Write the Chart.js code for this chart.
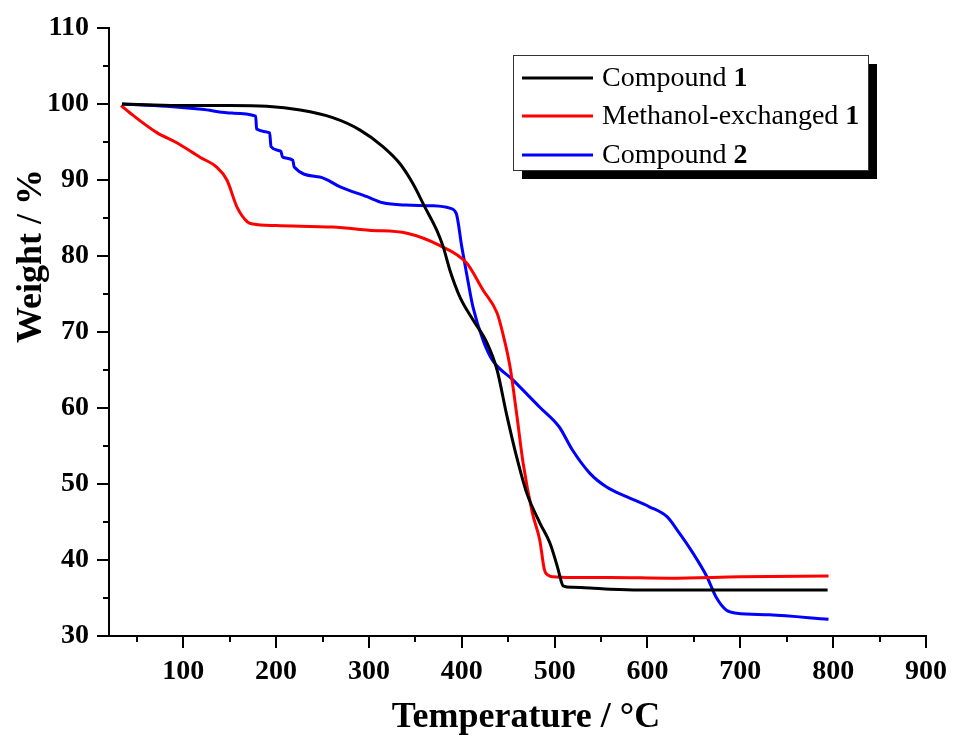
<!DOCTYPE html>
<html>
<head>
<meta charset="utf-8">
<script src="https://cdn.jsdelivr.net/npm/chart.js@4"></script>
<style>
    html, body { margin: 0; padding: 0; background: #ffffff; }
    #wrap { width: 954px; height: 736px; }
</style>
</head>
<body>
<div id="wrap"><canvas id="tgaChart" width="954" height="736"></canvas></div>
<script>
// TGA curves (temperature in °C, weight in %)
const tempCompound1 = [34, 60, 100, 150, 190, 226, 261, 290, 315, 333, 347, 360, 373, 380, 387, 398, 412, 427, 438, 448, 459, 470, 484, 495, 503, 507.6, 509, 520, 538, 560, 591, 650, 700, 750, 794];
const weightCompound1 = [100, 99.9, 99.8, 99.8, 99.7, 99.2, 98.2, 96.6, 94.4, 92.2, 89.6, 86.5, 83.4, 81.2, 78.2, 74.6, 71.6, 68.6, 65, 59.3, 53.6, 48.8, 44.9, 42.2, 39.1, 37.0, 36.6, 36.4, 36.3, 36.15, 36.05, 36.05, 36.05, 36.05, 36.05];

const tempMethanol1 = [33, 46, 72, 93, 118, 136, 147, 158, 169, 175, 200, 261, 300, 341, 376, 405, 423, 438, 444, 452, 459, 466, 476, 484, 489, 493, 498, 520, 560, 624, 700, 795];
const weightMethanol1 = [99.8, 98.5, 96.2, 94.9, 93, 91.7, 90, 86.4, 84.5, 84.2, 84.0, 83.8, 83.4, 83.0, 81.4, 79.1, 75.5, 72.5, 69.9, 65.4, 59.3, 52.8, 46.2, 42.6, 38.7, 38.0, 37.8, 37.7, 37.7, 37.6, 37.8, 37.9];

const tempCompound2 = [34, 82, 120, 153, 178, 179, 193, 194.5, 205, 207, 218, 219.5, 247, 269, 298, 315, 340, 370, 387, 394, 400, 405, 412, 423, 433, 455, 484, 505, 519, 538, 556, 578, 602, 621, 634, 649, 664, 674, 685, 696, 731, 795];
const weightCompound2 = [100, 99.7, 99.3, 98.8, 98.4, 96.7, 96.2, 94.4, 93.8, 93.0, 92.6, 91.7, 90.4, 89.1, 87.8, 87.0, 86.7, 86.6, 86.3, 85.6, 81.2, 77.8, 73.3, 68.9, 66.3, 63.7, 60.1, 57.5, 54.5, 51.4, 49.6, 48.3, 47.0, 45.7, 43.6, 40.9, 37.8, 35.1, 33.4, 33.0, 32.8, 32.2];

const xMajorTicks = [100, 200, 300, 400, 500, 600, 700, 800, 900];
const xMinorTicks = [50, 150, 250, 350, 450, 550, 650, 750, 850];
const yMinorTicks = [35, 45, 55, 65, 75, 85, 95, 105];

const seriesNames = ["Compound ", "Methanol-exchanged ", "Compound "];
const seriesNumbers = ["1", "1", "2"];
const seriesColors = ["#000000", "#ff0000", "#0000ff"];

const serifFont = "'Liberation Serif', 'Times New Roman', serif";

function toPoints(xs, ys) {
    return xs.map(function (x, i) {
        return { x: x, y: ys[i] };
    });
}

const minorTicksPlugin = {
    id: "minorTicks",
    afterDatasetsDraw: function (chart) {
        const ctx = chart.ctx;
        const xScale = chart.scales.x;
        const yScale = chart.scales.y;

        ctx.save();
        ctx.strokeStyle = "#000000";
        ctx.lineWidth = 2;
        xMinorTicks.forEach(function (v) {
            const px = Math.round(xScale.getPixelForValue(v));
            ctx.beginPath();
            ctx.moveTo(px, yScale.bottom);
            ctx.lineTo(px, yScale.bottom + 6);
            ctx.stroke();
        });
        yMinorTicks.forEach(function (v) {
            const py = Math.round(yScale.getPixelForValue(v));
            ctx.beginPath();
            ctx.moveTo(xScale.left, py);
            ctx.lineTo(xScale.left - 6, py);
            ctx.stroke();
        });
        ctx.restore();
    }
};

const axisTitlesPlugin = {
    id: "axisTitles",
    afterDraw: function (chart) {
        const ctx = chart.ctx;

        ctx.save();
        ctx.fillStyle = "#000000";
        ctx.font = "bold 36px " + serifFont;
        ctx.textAlign = "center";
        ctx.textBaseline = "alphabetic";
        ctx.fillText("Temperature / \u00B0C", 526, 727);

        ctx.translate(41, 256);
        ctx.rotate(-Math.PI / 2);
        ctx.fillText("Weight / %", 0, 0);
        ctx.restore();
    }
};

const boxLegendPlugin = {
    id: "boxLegend",
    afterDraw: function (chart) {
        const ctx = chart.ctx;
        const left = 513;
        const top = 55;
        const width = 355;
        const height = 115;

        ctx.save();
        // drop shadow
        ctx.fillStyle = "#000000";
        ctx.fillRect(left + 9, top + 9, width, height);
        ctx.fillStyle = "#ffffff";
        ctx.fillRect(left, top, width, height);
        ctx.strokeStyle = "#333333";
        ctx.lineWidth = 1;
        ctx.strokeRect(left + 0.5, top + 0.5, width, height);

        const rowY = [78, 116, 155];
        ctx.textBaseline = "middle";
        ctx.textAlign = "left";
        rowY.forEach(function (y, i) {
            ctx.strokeStyle = seriesColors[i];
            ctx.lineWidth = 3;
            ctx.beginPath();
            ctx.moveTo(522, y);
            ctx.lineTo(593, y);
            ctx.stroke();

            ctx.fillStyle = "#000000";
            ctx.font = "28px " + serifFont;
            ctx.fillText(seriesNames[i], 602, y + 1);
            const w = ctx.measureText(seriesNames[i]).width;
            ctx.font = "bold 28px " + serifFont;
            ctx.fillText(seriesNumbers[i], 602 + w, y + 1);
        });
        ctx.restore();
    }
};

new Chart(document.getElementById("tgaChart"), {
    type: "line",
    plugins: [minorTicksPlugin, axisTitlesPlugin, boxLegendPlugin],
    data: {
        datasets: [
            {
                label: "Compound 1",
                data: toPoints(tempCompound1, weightCompound1),
                borderColor: seriesColors[0],
                borderWidth: 3,
                pointRadius: 0,
                cubicInterpolationMode: "monotone"
            },
            {
                label: "Methanol-exchanged 1",
                data: toPoints(tempMethanol1, weightMethanol1),
                borderColor: seriesColors[1],
                borderWidth: 3,
                pointRadius: 0,
                cubicInterpolationMode: "monotone"
            },
            {
                label: "Compound 2",
                data: toPoints(tempCompound2, weightCompound2),
                borderColor: seriesColors[2],
                borderWidth: 3,
                pointRadius: 0,
                cubicInterpolationMode: "monotone"
            }
        ]
    },
    options: {
        responsive: false,
        animation: false,
        events: [],
        layout: {
            padding: { top: 28, right: 26, bottom: 0, left: 0 }
        },
        plugins: {
            legend: { display: false },
            tooltip: { enabled: false }
        },
        scales: {
            x: {
                type: "linear",
                min: 20,
                max: 900,
                afterBuildTicks: function (scale) {
                    scale.ticks = xMajorTicks.map(function (v) { return { value: v }; });
                },
                afterFit: function (scale) {
                    scale.height = 100;
                },
                ticks: {
                    color: "#000000",
                    padding: 7,
                    maxRotation: 0,
                    font: { family: serifFont, size: 28, weight: "bold" }
                },
                grid: {
                    drawOnChartArea: false,
                    color: "#000000",
                    lineWidth: 2,
                    tickLength: 12
                },
                border: { color: "#000000", width: 2 }
            },
            y: {
                min: 30,
                max: 110,
                afterFit: function (scale) {
                    scale.width = 109;
                },
                ticks: {
                    stepSize: 10,
                    color: "#000000",
                    padding: 8,
                    font: { family: serifFont, size: 28, weight: "bold" }
                },
                grid: {
                    drawOnChartArea: false,
                    color: "#000000",
                    lineWidth: 2,
                    tickLength: 12
                },
                border: { color: "#000000", width: 2 }
            }
        }
    }
});
</script>
</body>
</html>
